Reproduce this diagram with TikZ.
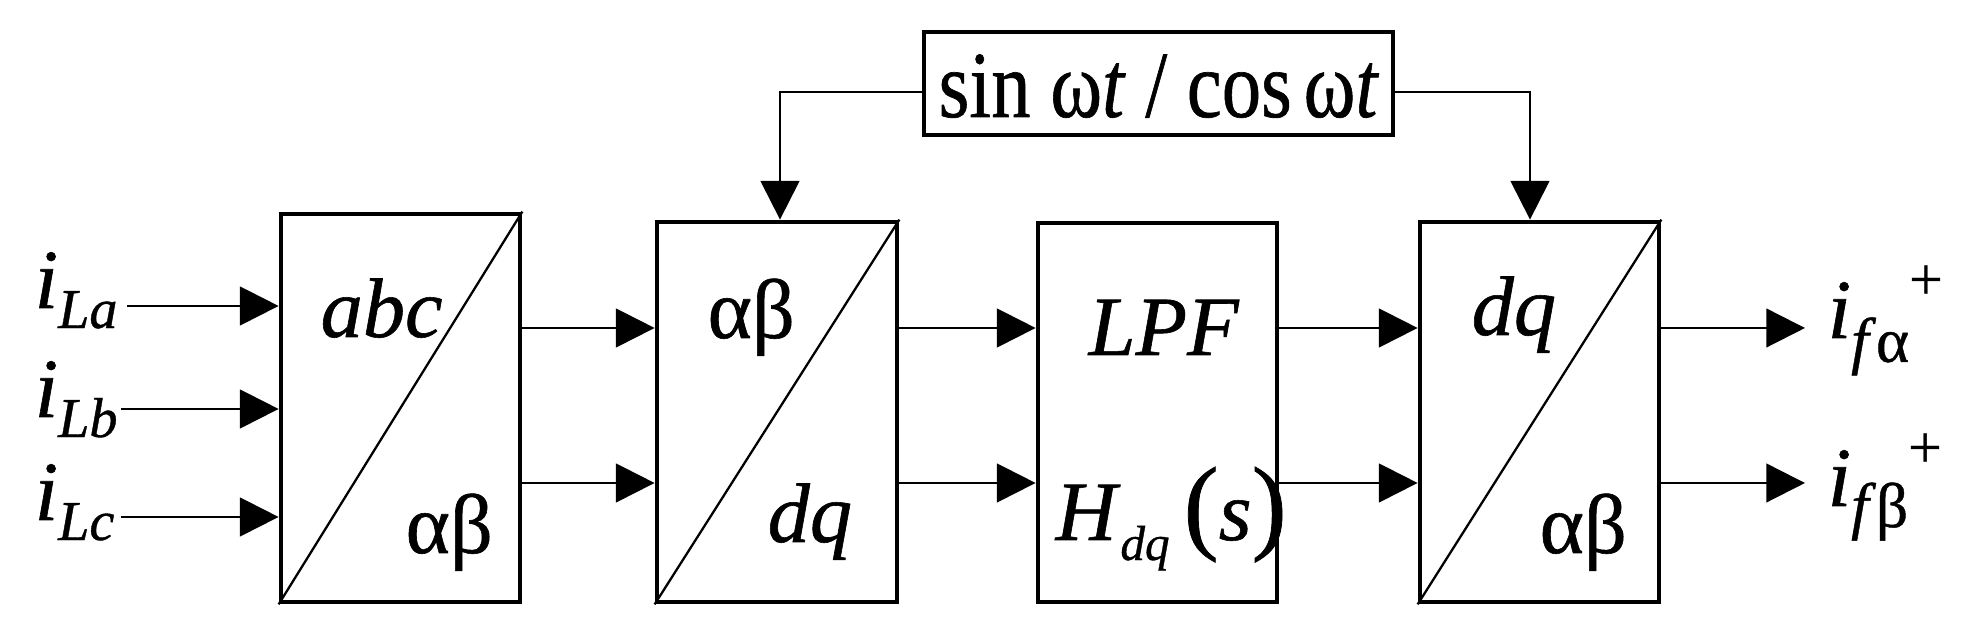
\documentclass[tikz,border=0pt]{standalone}
\usepackage{fontspec}
\usepackage{graphicx}
\setmainfont{Liberation Serif}[FakeBold=0.7]
\usetikzlibrary{arrows.meta,fit}
\newcommand{\fsz}[1]{\fontsize{#1}{#1}\selectfont}
\begin{document}
\begin{tikzpicture}[x=0.1mm,y=-0.1mm,
  blk/.style={draw,line width=1.35pt,inner sep=0pt},
  conn/.style={line width=0.65pt,-{Triangle[length=11pt,width=11pt]}},
  wire/.style={line width=0.65pt},
  lbl/.style={inner sep=0pt,anchor=base west,font=\fsz{24}}]
\useasboundingbox (0,0) rectangle (1974,630);
% blocks
\node[blk,fit={(281,214)(520,602)}] (b1) {};
\node[blk,fit={(657,222)(897,602)}] (b2) {};
\node[blk,fit={(1038,223)(1277,602)}] (b3) {};
\node[blk,fit={(1420,222)(1659,602)}] (b4) {};
\node[blk,fit={(924,32)(1393,135)}] (tb) {};
% diagonals
\draw[wire] (b1.south west) -- (b1.north east);
\draw[wire] (b2.south west) -- (b2.north east);
\draw[wire] (b4.south west) -- (b4.north east);
% block texts
\node[lbl] (t1a) at (320,337) {\textit{abc}};
\node[lbl] (t1b) at (405,553) {αβ};
\node[lbl] (t2a) at (707,338) {αβ};
\node[lbl] (t2b) at (767,542) {\textit{dq}};
\node[lbl] (t3a) at (1088,355) {\textit{LPF}};
\node[lbl] (t3b) at (1055,540) {\textit{H}\raisebox{-5.7pt}{\fsz{14}\textit{dq}}\hspace{4pt}{\fsz{30}(}\textit{s}{\fsz{30})}};
\node[lbl] (t4a) at (1471,335) {\textit{dq}};
\node[lbl] (t4b) at (1539,553) {αβ};
\node[lbl] (tbt) at (938,117) {\scalebox{0.83}[1]{\fsz{27}sin ω\textit{t} / cos\hspace{0.15em}ω\textit{t}}};
% feeds from the top box
\coordinate (fl) at (780,0);
\coordinate (fr) at (1530,0);
\coordinate (fy) at (0,92);
\draw[conn] (tb.west |- fy) -| (b2.north -| fl);
\draw[conn] (tb.east |- fy) -| (b4.north -| fr);
% signal lines between blocks
\coordinate (ya) at (0,328);
\coordinate (yb) at (0,483);
\draw[conn] (b1.east |- ya) -- (b2.west |- ya);
\draw[conn] (b1.east |- yb) -- (b2.west |- yb);
\draw[conn] (b2.east |- ya) -- (b3.west |- ya);
\draw[conn] (b2.east |- yb) -- (b3.west |- yb);
\draw[conn] (b3.east |- ya) -- (b4.west |- ya);
\draw[conn] (b3.east |- yb) -- (b4.west |- yb);
% outputs
\coordinate (oa) at (1805,328);
\coordinate (ob) at (1805,483);
\draw[conn] (b4.east |- oa) -- (oa);
\draw[conn] (b4.east |- ob) -- (ob);
\node[lbl] (ola) at (1827,338) {\textit{i}\raisebox{-6.8pt}{\fsz{18}\textit{f}α}\raisebox{11pt}{\fsz{17}+}};
\node[lbl] (olb) at (1827,506) {\textit{i}\raisebox{-6pt}{\fsz{18}\textit{f}β}\raisebox{11pt}{\fsz{17}+}};
% inputs
\coordinate (sa) at (127,306);
\coordinate (sb) at (121,409);
\coordinate (sc) at (121,517);
\draw[conn] (sa) -- (b1.west |- sa);
\draw[conn] (sb) -- (b1.west |- sb);
\draw[conn] (sc) -- (b1.west |- sc);
\node[lbl] (la) at (34,308) {\textit{i}\raisebox{-5.7pt}{\fsz{16}\textit{La}}};
\node[lbl] (lb) at (34,417) {\textit{i}\raisebox{-5.7pt}{\fsz{16}\textit{Lb}}};
\node[lbl] (lc) at (34,520) {\textit{i}\raisebox{-5.7pt}{\fsz{16}\textit{Lc}}};
\end{tikzpicture}
\end{document}
